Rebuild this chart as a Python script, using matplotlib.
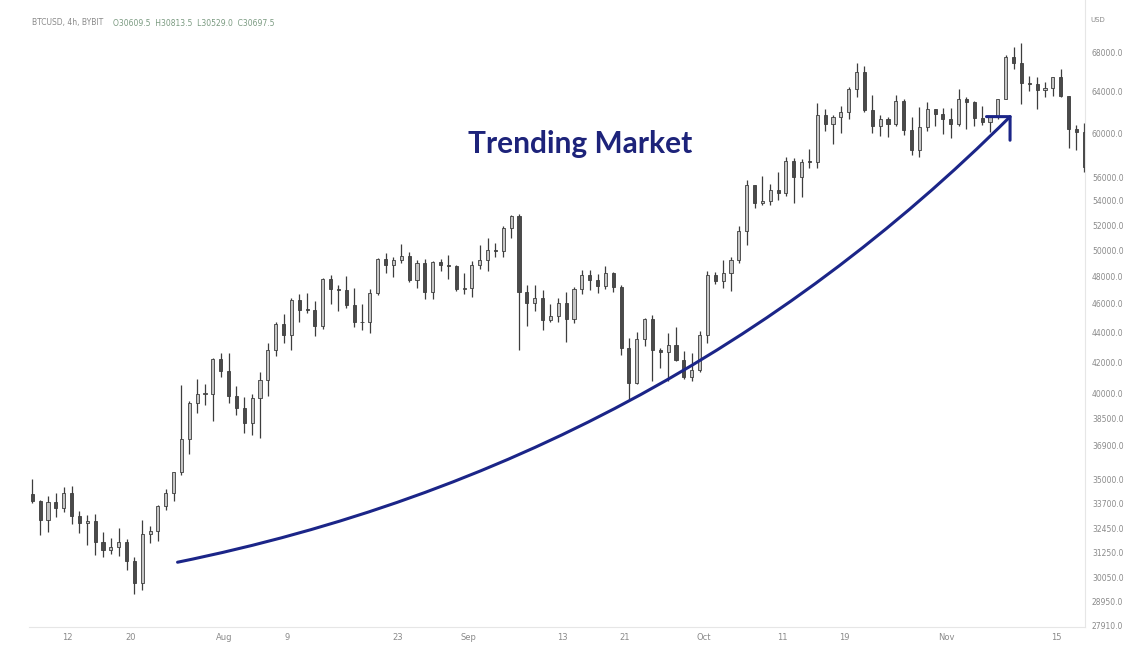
import matplotlib
matplotlib.use("Agg")
import matplotlib.pyplot as plt
import matplotlib.dates as mdates
import numpy as np
import pandas as pd

# ---------------- data (daily OHLC) ----------------
start_date = "2021-07-07"
opens = [34230, 33860, 32880, 33820, 33510, 34260, 33090, 32730, 32820, 31780,
         31390, 31520, 31780, 30840, 29790, 32140, 32290, 33590, 34290, 35400,
         37260, 39460, 40000, 40000, 42200, 41470, 39850, 39150, 38200, 39740,
         40880, 42830, 44620, 43820, 46280, 45590, 45550, 44420, 47830, 47110,
         47020, 45930, 44690, 44700, 46760, 49340, 48870, 49290, 49550, 47710,
         48990, 46850, 49070, 48900, 48810, 47050, 47150, 48850, 49280, 50030,
         49940, 51790, 52700, 46860, 46080, 46390, 44850, 45160, 46060, 44960,
         47100, 48130, 47750, 47300, 48300, 47260, 42980, 40700, 43570, 44900,
         42820, 42700, 43180, 42170, 41030, 41520, 43800, 48140, 47660, 48230,
         49250, 51490, 55340, 53800, 53950, 54960, 54700, 57480, 56000, 57370,
         57350, 61670, 60870, 61530, 62040, 64280, 66000, 62200, 60690, 61300,
         60850, 63080, 60330, 58450, 60600, 62250, 61850, 61300, 60900, 63220,
         62930, 61400, 61000, 61500, 63300, 67550, 66950, 64900, 64800, 64150,
         64400, 65500, 63600, 60350, 60100]
highs = [35060, 33900, 34100, 34260, 34600, 34680, 33340, 33120, 33180, 32250,
         31950, 32440, 31890, 31050, 32860, 32580, 33650, 34500, 35400, 40550,
         39540, 40900, 40630, 42300, 42600, 42600, 40460, 39780, 39970, 41400,
         43270, 44700, 45310, 46450, 46700, 46780, 46220, 47890, 48150, 47370,
         48050, 47160, 46000, 47050, 49380, 49760, 49500, 50500, 49860, 49230,
         49350, 49170, 49300, 49650, 48900, 48250, 49140, 50400, 51000, 50560,
         51900, 52800, 52920, 47350, 47380, 47030, 45980, 46460, 46880, 47250,
         48470, 48500, 48160, 48800, 48370, 47350, 43630, 44000, 44970, 45200,
         42970, 43940, 44350, 42780, 42600, 44100, 48450, 48330, 49220, 49500,
         51890, 55750, 55340, 56100, 55450, 56500, 57840, 57680, 57650, 58530,
         62900, 62300, 61700, 62600, 64500, 66900, 66640, 63700, 61740, 61480,
         63700, 63290, 61500, 62500, 62950, 62300, 62400, 62400, 64250, 63500,
         63100, 62600, 61550, 63300, 67800, 68550, 69000, 65600, 65500, 64950,
         65500, 66300, 63600, 60800, 60950]
lows = [33770, 32100, 32260, 33000, 33300, 32660, 32200, 31600, 31130, 31020,
        31170, 31100, 30400, 29280, 29500, 31710, 31800, 33400, 33870, 35250,
        36400, 38800, 39300, 38330, 41050, 39450, 38700, 37640, 37510, 37330,
        39880, 42450, 43300, 42850, 44700, 45350, 43770, 44250, 45960, 45520,
        45680, 44380, 44200, 43960, 46650, 48300, 48000, 49030, 47600, 47150,
        46320, 46370, 48380, 47850, 46900, 46700, 46530, 48600, 48400, 49450,
        49500, 50960, 42800, 44420, 45500, 44150, 44750, 44750, 43370, 44680,
        46700, 47040, 46800, 47050, 46850, 42500, 39600, 40600, 43100, 40800,
        41650, 40800, 42100, 40900, 40780, 41400, 43300, 47430, 47120, 46900,
        49050, 50380, 53360, 53640, 53650, 54100, 54420, 53850, 54300, 56800,
        56850, 60150, 58950, 60000, 61330, 63500, 62000, 60000, 59700, 59600,
        60650, 59840, 58000, 57800, 60200, 60700, 59950, 59500, 60650, 60400,
        60700, 60750, 60100, 61350, 63300, 66300, 62800, 64100, 62300, 63450,
        63600, 63500, 58600, 58400, 56500]
closes = [33860, 32880, 33820, 33510, 34260, 33090, 32730, 32820, 31780, 31390,
          31520, 31780, 30840, 29790, 32140, 32290, 33590, 34290, 35400, 37260,
          39460, 40000, 40000, 42200, 41470, 39850, 39150, 38200, 39740, 40880,
          42830, 44620, 43820, 46280, 45590, 45550, 44420, 47830, 47110, 47020,
          45930, 44690, 44700, 46760, 49340, 48870, 49290, 49550, 47710, 48990,
          46850, 49070, 48900, 48810, 47050, 47150, 48850, 49280, 50030, 49940,
          51790, 52700, 46860, 46080, 46390, 44850, 45160, 46060, 44960, 47100,
          48130, 47750, 47300, 48300, 47260, 42980, 40700, 43570, 44900, 42820,
          42700, 43180, 42170, 41030, 41520, 43800, 48140, 47660, 48230, 49250,
          51490, 55340, 53800, 53950, 54960, 54700, 57480, 56000, 57370, 57350,
          61670, 60870, 61530, 62040, 64280, 66000, 62200, 60690, 61300, 60850,
          63080, 60330, 58450, 60600, 62250, 61850, 61300, 60900, 63220, 62930,
          61400, 61000, 61500, 63300, 67550, 66950, 64900, 64800, 64150, 64400,
          65500, 63600, 60350, 60100, 56900]

price_ticks = [68000, 64000, 60000, 56000, 54000, 52000, 50000, 48000, 46000,
               44000, 42000, 40000, 38500, 36900, 35000, 33700, 32450, 31250,
               30050, 28950, 27910]
date_ticks = ["2021-07-12", "2021-07-20", "2021-08-01", "2021-08-09", "2021-08-23",
              "2021-09-01", "2021-09-13", "2021-09-21", "2021-10-01", "2021-10-11",
              "2021-10-19", "2021-11-01", "2021-11-15"]
date_tick_labels = ["12", "20", "Aug", "9", "23", "Sep", "13", "21", "Oct", "11",
                    "19", "Nov", "15"]

header = "BTCUSD, 4h, BYBIT"
header_values = "O30609.5  H30813.5  L30529.0  C30697.5"
title_text = "Trending Market"
arrow_start = ("2021-07-26", 30780)
arrow_end = ("2021-11-09 06:00", 61700)

# ---------------- figure ----------------
W, H = 1146, 658
fig = plt.figure(figsize=(W / 100, H / 100), dpi=100)
fig.patch.set_facecolor("white")
ax = fig.add_axes([29 / W, (H - 627) / H, (1085 - 29) / W, 627 / H])
ax.set_facecolor("white")

dates = pd.date_range(start_date, periods=len(closes), freq="D")
x = mdates.date2num(dates) + 0.5
o = np.array(opens, float)
h = np.array(highs, float)
l = np.array(lows, float)
c = np.array(closes, float)
up = c >= o

dark = "#3d3d3d"
ax.vlines(x, l, h, color=dark, linewidth=0.9, zorder=2)
body_bottom = np.minimum(o, c)
body_h = np.maximum(np.abs(c - o), 60)
ax.bar(x[up], body_h[up], bottom=body_bottom[up], width=0.4,
       color="#c4c4c4", edgecolor=dark, linewidth=0.6, zorder=3)
ax.bar(x[~up], body_h[~up], bottom=body_bottom[~up], width=0.4,
       color="#4a4a4a", edgecolor=dark, linewidth=0.6, zorder=3)

ax.set_yscale("log")
ax.set_ylim(27830, 73800)
sep1 = mdates.date2num(pd.Timestamp("2021-09-01"))
ax.set_xlim(sep1 + (29 - 468) / 7.85, sep1 + (1085 - 468) / 7.85)

ax.yaxis.tick_right()
ax.yaxis.set_major_locator(matplotlib.ticker.FixedLocator(price_ticks))
ax.yaxis.set_minor_locator(matplotlib.ticker.NullLocator())
ax.set_yticklabels([f"{v:.1f}" for v in price_ticks])
ax.tick_params(axis="y", length=0, pad=5, labelsize=5.5, labelcolor="#8a8a8a")

ax.set_xticks(mdates.date2num(pd.to_datetime(date_ticks)))
ax.set_xticklabels(date_tick_labels)
ax.tick_params(axis="x", length=0, pad=4, labelsize=6, labelcolor="#8a8a8a")

for s in ["top", "left"]:
    ax.spines[s].set_visible(False)
for s in ["right", "bottom"]:
    ax.spines[s].set_color("#e6e6e6")
    ax.spines[s].set_linewidth(0.8)

# header and unit
fig.text(32 / W, 1 - 23 / H, header, fontsize=5.5, color="#8a8a8a", va="center", ha="left")
fig.text(113 / W, 1 - 23 / H, header_values, fontsize=5.5, color="#7a9a80", va="center", ha="left")
fig.text(1090 / W, 1 - 20 / H, "USD", fontsize=5, color="#8a8a8a", va="center", ha="left")

# title
fig.text(580 / W, 1 - 144 / H, title_text, fontsize=21.5, fontweight="bold",
         family=["Lato", "DejaVu Sans"], color="#1d237a", ha="center", va="center")

# arrow
navy = "#1b2588"
xs = mdates.date2num(pd.Timestamp(arrow_start[0]))
xe = mdates.date2num(pd.Timestamp(arrow_end[0]))
ax.annotate("", xy=(xe, arrow_end[1]), xytext=(xs, arrow_start[1]),
            xycoords="data", textcoords="data",
            arrowprops=dict(arrowstyle="->,head_length=1.0,head_width=1.0",
                            connectionstyle="arc3,rad=0.15", color=navy,
                            linewidth=2.2, shrinkA=0, shrinkB=0,
                            mutation_scale=12),
            zorder=5)

fig.savefig("out.png", dpi=100, facecolor="white")
